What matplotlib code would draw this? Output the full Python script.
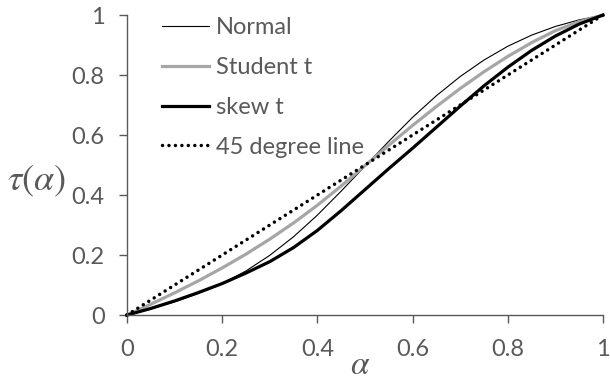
# tau(alpha) curves for three distributions against the 45 degree line
import numpy as np
import matplotlib.pyplot as plt

# ---- data ----
alpha = [0, 0.05, 0.1, 0.15, 0.2, 0.25, 0.3, 0.35, 0.4, 0.45, 0.5,
         0.55, 0.6, 0.65, 0.7, 0.75, 0.8, 0.85, 0.9, 0.95, 1]
tau_normal = [0, 0.02, 0.044, 0.072, 0.105, 0.147, 0.199, 0.261, 0.333, 0.413, 0.496,
              0.579, 0.659, 0.731, 0.795, 0.85, 0.896, 0.933, 0.962, 0.984, 1]
tau_student = [0, 0.036, 0.074, 0.114, 0.157, 0.203, 0.253, 0.307, 0.366, 0.43, 0.498,
               0.566, 0.632, 0.695, 0.755, 0.811, 0.862, 0.908, 0.948, 0.978, 1]
tau_skew = [0, 0.022, 0.047, 0.075, 0.105, 0.14, 0.178, 0.225, 0.282, 0.348, 0.418,
            0.488, 0.556, 0.626, 0.696, 0.764, 0.826, 0.882, 0.93, 0.97, 1]
line45 = [0, 1]

ticks = [0, 0.2, 0.4, 0.6, 0.8, 1]
tick_labels = ['0', '0.2', '0.4', '0.6', '0.8', '1']

plt.rcParams['font.family'] = ['Lato', 'DejaVu Sans']
plt.rcParams['mathtext.fontset'] = 'stix'

grey_txt = '#595959'

fig = plt.figure(figsize=(6.1, 3.81), dpi=100)
ax = fig.add_axes([0.208, 0.173, 0.7805, 0.7875])

ax.plot(alpha, tau_normal, color='black', lw=0.8, label='Normal', clip_on=False)
ax.plot(alpha, tau_student, color='#a6a6a6', lw=2.3, label='Student t', clip_on=False)
ax.plot(alpha, tau_skew, color='black', lw=2.3, label='skew t', clip_on=False)
ax.plot(line45, line45, color='black', lw=2.5, linestyle=(0, (0.01, 1.85)),
        dash_capstyle='round', label='45 degree line', clip_on=False)

ax.set_xlim(0, 1)
ax.set_ylim(0, 1)
ax.set_xticks(ticks)
ax.set_xticklabels(tick_labels)
ax.set_yticks(ticks)
ax.set_yticklabels(tick_labels)

for side in ['top', 'right']:
    ax.spines[side].set_visible(False)
for side in ['left', 'bottom']:
    ax.spines[side].set_color('#595959')
    ax.spines[side].set_linewidth(1.0)
ax.tick_params(direction='out', length=6, width=1.0, color='#595959',
               labelcolor=grey_txt, labelsize=17)
ax.tick_params(axis='x', pad=11)
ax.tick_params(axis='y', pad=10)

# axis titles, placed by hand like in the reference
ax.text(-0.19, 0.445, r'$\tau(\alpha)$', transform=ax.transAxes, fontsize=26,
        color=grey_txt, ha='center', va='center')
ax.text(0.49, -0.165, r'$\alpha$', transform=ax.transAxes, fontsize=24,
        color=grey_txt, ha='center', va='center')

leg = ax.legend(loc='upper left', bbox_to_anchor=(0.054, 1.025), frameon=False,
                fontsize=17, handlelength=2.0, handletextpad=0.3,
                labelspacing=0.8, borderaxespad=0)
for t in leg.get_texts():
    t.set_color(grey_txt)

fig.savefig('out.png', dpi=100)
